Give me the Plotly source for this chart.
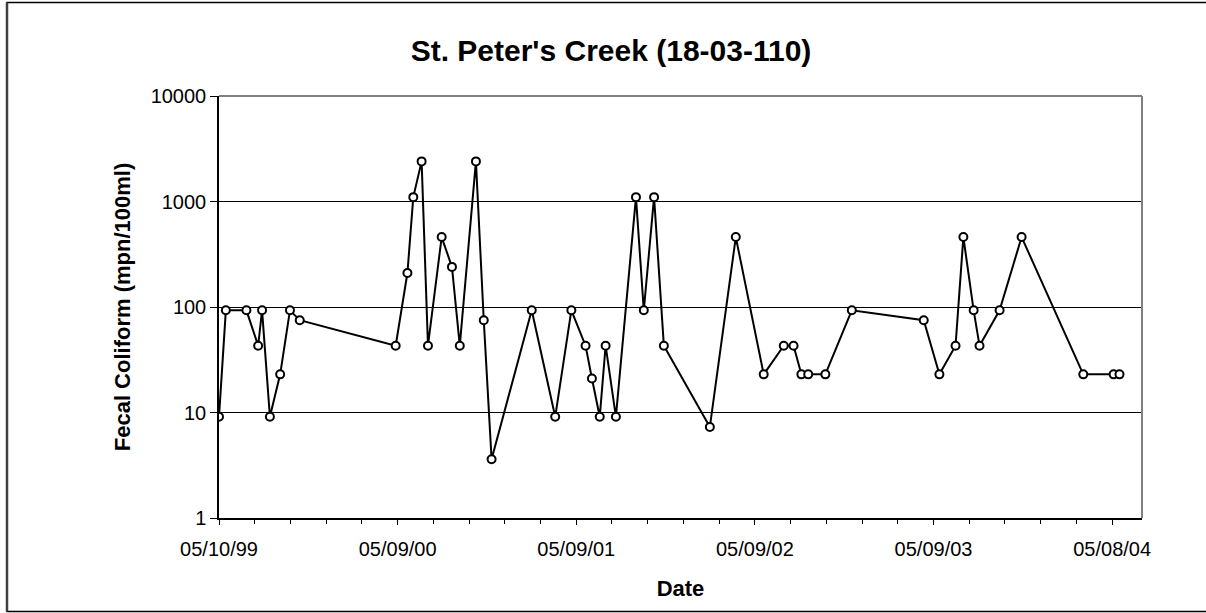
import plotly.graph_objects as go

dates = [
    "1999-05-10", "1999-05-24", "1999-07-05", "1999-07-29", "1999-08-06",
    "1999-08-22", "1999-09-12", "1999-10-02", "1999-10-22",
    "2000-05-05", "2000-05-29", "2000-06-10", "2000-06-27", "2000-07-10",
    "2000-08-07", "2000-08-28", "2000-09-13", "2000-10-16", "2000-11-01",
    "2000-11-17", "2001-02-07", "2001-03-27", "2001-04-29", "2001-05-28",
    "2001-06-10", "2001-06-26", "2001-07-08", "2001-07-29", "2001-09-08",
    "2001-09-24", "2001-10-15", "2001-11-04", "2002-02-06", "2002-03-31",
    "2002-05-27", "2002-07-07", "2002-07-27", "2002-08-12", "2002-08-26",
    "2002-09-30", "2002-11-23", "2003-04-19", "2003-05-21", "2003-06-23",
    "2003-07-09", "2003-07-30", "2003-08-11", "2003-09-21", "2003-11-05",
    "2004-03-10", "2004-05-11", "2004-05-23",
]
fecal = [
    9.1, 93, 93, 43, 93,
    9.1, 23, 93, 75,
    43, 210, 1100, 2400, 43,
    460, 240, 43, 2400, 75,
    3.6, 93, 9.1, 93, 43,
    21, 9.1, 43, 9.1, 1100,
    93, 1100, 43, 7.3, 460,
    23, 43, 43, 23, 23,
    23, 93, 75, 23, 43,
    460, 93, 43, 93, 460,
    23, 23, 23,
]
y_ticks = [1, 10, 100, 1000, 10000]
y_tick_labels = ["1", "10", "100", "1000", "10000"]

title_text = "St. Peter's Creek (18-03-110)"
x_title = "Date"
y_title = "Fecal Coliform (mpn/100ml)"

DAY = 86400000
W, H = 1206, 613
ML, MR, MT, MB = 219, 64, 96, 95
PW = W - ML - MR
PH = H - MT - MB

def px_x(p):
    return (p - ML) / PW

def px_y(p):
    return (H - MB - p) / PH

font = "Arial, Liberation Sans, sans-serif"

fig = go.Figure()
fig.add_trace(go.Scatter(
    x=dates, y=fecal, mode="lines+markers",
    line=dict(color="black", width=2),
    marker=dict(symbol="circle", size=8, color="white",
                line=dict(color="black", width=2)),
    showlegend=False,
))

fig.update_layout(
    width=W, height=H,
    margin=dict(l=ML, r=MR, t=MT, b=MB),
    paper_bgcolor="white", plot_bgcolor="white",
    font=dict(family=font, color="black", size=20),
    title=dict(text="<b>" + title_text + "</b>", x=611 / W, xref="container",
               xanchor="center", y=1 - 50 / H, yref="container", yanchor="middle",
               font=dict(size=30, family=font, color="black")),
    xaxis=dict(
        type="date", range=["1999-05-10", "2004-07-08"],
        tick0="1999-05-10", dtick=365 * DAY, tickformat="%m/%d/%y",
        ticks="outside", ticklen=5, tickcolor="black", tickwidth=1,
        ticklabelstandoff=7,
        showgrid=False, zeroline=False,
        showline=True, linecolor="black", linewidth=1.5,
        tickfont=dict(size=20, family=font, color="black"),
        minor=dict(dtick=73 * DAY, tick0="1999-05-10", ticks="outside",
                   ticklen=4, tickcolor="black", showgrid=False),
        title=dict(text="<b>" + x_title + "</b>", standoff=22,
                   font=dict(size=22, family=font, color="black")),
    ),
    yaxis=dict(
        type="log", range=[0, 4],
        tickvals=y_ticks, ticktext=y_tick_labels,
        ticks="outside", ticklen=7, tickcolor="black",
        showgrid=True, gridcolor="black", gridwidth=1,
        zeroline=False,
        showline=True, linecolor="black", linewidth=1.5,
        tickfont=dict(size=20, family=font, color="black"),
        title=dict(text="<b>" + y_title + "</b>", standoff=14,
                   font=dict(size=22, family=font, color="black")),
    ),
    shapes=[
        dict(type="line", xref="paper", yref="paper", x0=0, x1=1, y0=1, y1=1,
             line=dict(color="#808080", width=2), layer="above"),
        dict(type="line", xref="paper", yref="paper", x0=1, x1=1, y0=0, y1=1,
             line=dict(color="#808080", width=2), layer="above"),
        dict(type="rect", xref="paper", yref="paper",
             x0=px_x(7), x1=px_x(1210), y0=px_y(611.5), y1=px_y(2.5),
             line=dict(color="black", width=1.5), layer="above"),
        dict(type="line", xref="paper", yref="paper",
             x0=px_x(7), x1=px_x(7), y0=px_y(611.5), y1=px_y(2.5),
             line=dict(color="#404040", width=2.5), layer="above"),
    ],
)

fig.write_html(
    "out.html",
    config={"displayModeBar": False},
    post_script="document.body.style.margin='0';document.body.style.overflow='hidden';",
)
